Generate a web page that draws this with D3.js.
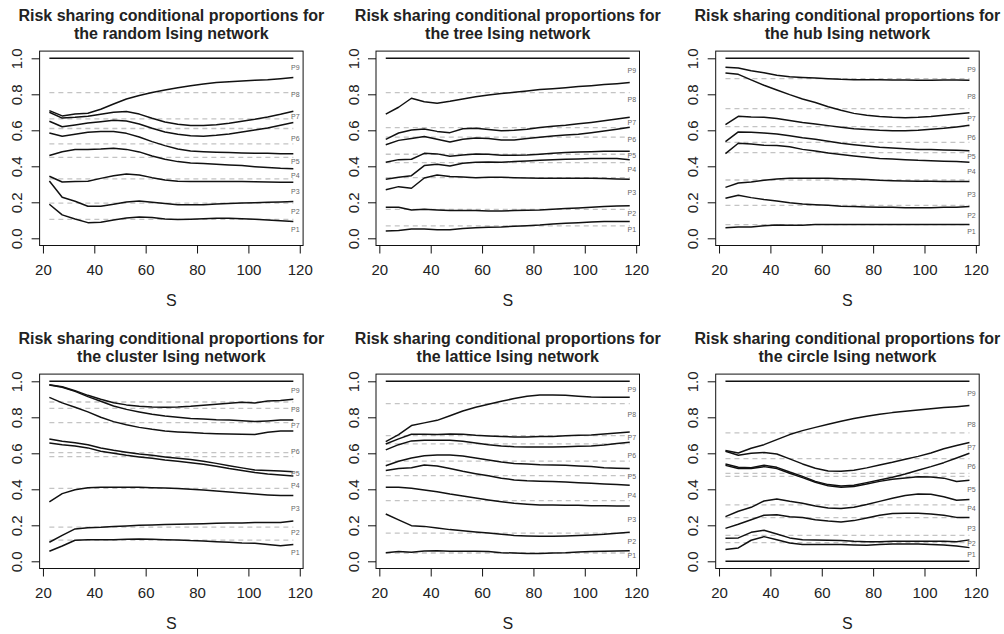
<!DOCTYPE html>
<html>
<head>
<meta charset="utf-8">
<script src="https://cdn.jsdelivr.net/npm/d3@7"></script>
<style>
  body { margin: 0; background: #fff; }
  svg { display: block; }
  text { font-family: "Liberation Sans", Arial, Helvetica, sans-serif; }
</style>
</head>
<body>
<svg id="chart" width="1004" height="634"></svg>
<script>
// Network size S at which the proportions were evaluated
const sValues = [22.5, 27.5, 32.5, 37.5, 42.5, 47.5, 52.5, 57.5, 62.5, 67.5,
                 72.5, 77.5, 82.5, 87.5, 92.5, 97.5, 102.5, 107.5, 112.5, 117.5];
const xTicks = [20, 40, 60, 80, 100, 120];
const yTicks = [0, 0.2, 0.4, 0.6, 0.8, 1.0];
const proportionLabels = ["P1", "P2", "P3", "P4", "P5", "P6", "P7", "P8", "P9"];

// Cumulative proportions C1..C8 (C0 = 0 and C9 = 1) for each network type
const randomCurves = [
  [0.189,0.130,0.107,0.087,0.089,0.102,0.113,0.119,0.115,0.107,0.104,0.106,0.109,0.111,0.111,0.109,0.106,0.102,0.098,0.094],
  [0.318,0.228,0.206,0.178,0.178,0.189,0.202,0.207,0.200,0.193,0.187,0.187,0.187,0.191,0.194,0.196,0.198,0.200,0.202,0.204],
  [0.345,0.313,0.315,0.317,0.333,0.348,0.357,0.352,0.337,0.324,0.317,0.315,0.315,0.315,0.315,0.315,0.314,0.313,0.312,0.311],
  [0.460,0.481,0.493,0.494,0.496,0.500,0.494,0.480,0.457,0.439,0.426,0.419,0.415,0.411,0.407,0.404,0.398,0.393,0.389,0.387],
  [0.585,0.567,0.578,0.589,0.593,0.593,0.583,0.563,0.537,0.515,0.496,0.485,0.481,0.478,0.476,0.474,0.472,0.472,0.470,0.470],
  [0.650,0.620,0.630,0.640,0.648,0.656,0.652,0.635,0.611,0.591,0.578,0.570,0.567,0.572,0.580,0.591,0.602,0.613,0.628,0.643],
  [0.700,0.668,0.672,0.678,0.689,0.700,0.704,0.690,0.667,0.646,0.633,0.626,0.626,0.631,0.639,0.650,0.661,0.674,0.689,0.706],
  [0.709,0.680,0.690,0.695,0.717,0.746,0.774,0.793,0.810,0.824,0.837,0.848,0.857,0.865,0.870,0.874,0.878,0.881,0.887,0.893]
];
const randomRefs = [0.105, 0.195, 0.330, 0.450, 0.525, 0.610, 0.663, 0.809];

const treeCurves = [
  [0.041,0.044,0.052,0.052,0.048,0.048,0.054,0.059,0.061,0.063,0.067,0.070,0.074,0.080,0.083,0.087,0.091,0.093,0.093,0.093],
  [0.172,0.172,0.157,0.161,0.157,0.154,0.154,0.154,0.152,0.152,0.154,0.156,0.157,0.161,0.165,0.169,0.172,0.176,0.180,0.181],
  [0.270,0.287,0.278,0.335,0.352,0.343,0.341,0.337,0.339,0.339,0.337,0.335,0.333,0.333,0.333,0.333,0.333,0.332,0.330,0.328],
  [0.328,0.339,0.348,0.404,0.411,0.402,0.417,0.422,0.424,0.422,0.426,0.430,0.433,0.437,0.439,0.441,0.443,0.443,0.443,0.437],
  [0.422,0.437,0.439,0.472,0.469,0.456,0.463,0.469,0.467,0.461,0.461,0.463,0.467,0.472,0.476,0.480,0.481,0.483,0.483,0.483],
  [0.520,0.544,0.554,0.565,0.550,0.535,0.550,0.557,0.554,0.546,0.546,0.554,0.561,0.569,0.574,0.578,0.587,0.596,0.606,0.617],
  [0.550,0.585,0.602,0.607,0.594,0.587,0.609,0.611,0.604,0.598,0.600,0.606,0.615,0.622,0.628,0.636,0.644,0.653,0.663,0.673],
  [0.690,0.728,0.778,0.759,0.750,0.761,0.774,0.787,0.796,0.804,0.811,0.819,0.826,0.831,0.837,0.843,0.848,0.854,0.859,0.865]
];
const treeRefs = [0.069, 0.161, 0.337, 0.420, 0.467, 0.562, 0.615, 0.809];

const hubCurves = [
  [0.059,0.063,0.063,0.070,0.074,0.072,0.072,0.076,0.076,0.076,0.076,0.076,0.076,0.076,0.076,0.076,0.076,0.076,0.076,0.076],
  [0.222,0.239,0.226,0.215,0.207,0.198,0.191,0.187,0.183,0.178,0.176,0.174,0.172,0.172,0.170,0.170,0.170,0.172,0.172,0.176],
  [0.283,0.307,0.313,0.322,0.330,0.333,0.333,0.333,0.333,0.331,0.330,0.326,0.322,0.320,0.319,0.317,0.317,0.315,0.315,0.315],
  [0.470,0.528,0.524,0.517,0.515,0.509,0.494,0.485,0.474,0.465,0.457,0.450,0.444,0.441,0.437,0.433,0.431,0.428,0.426,0.422],
  [0.537,0.591,0.589,0.585,0.580,0.570,0.559,0.550,0.539,0.528,0.520,0.513,0.506,0.502,0.498,0.494,0.493,0.491,0.489,0.487],
  [0.631,0.678,0.674,0.672,0.665,0.654,0.643,0.635,0.626,0.617,0.609,0.604,0.600,0.598,0.598,0.600,0.606,0.611,0.619,0.628],
  [0.919,0.911,0.880,0.850,0.824,0.798,0.774,0.754,0.731,0.711,0.694,0.683,0.676,0.672,0.670,0.672,0.676,0.683,0.691,0.698],
  [0.950,0.946,0.931,0.920,0.906,0.898,0.894,0.891,0.887,0.883,0.881,0.881,0.881,0.880,0.880,0.878,0.878,0.880,0.880,0.878]
];
const hubRefs = [0.076, 0.183, 0.324, 0.476, 0.533, 0.620, 0.720, 0.887];

const clusterCurves = [
  [0.056,0.085,0.117,0.120,0.120,0.120,0.122,0.124,0.122,0.120,0.119,0.115,0.113,0.109,0.106,0.102,0.100,0.093,0.087,0.094],
  [0.106,0.144,0.180,0.187,0.189,0.193,0.196,0.200,0.202,0.204,0.206,0.207,0.209,0.211,0.213,0.213,0.215,0.215,0.215,0.224],
  [0.330,0.376,0.398,0.409,0.411,0.411,0.411,0.411,0.409,0.407,0.404,0.400,0.396,0.391,0.385,0.380,0.374,0.369,0.365,0.365],
  [0.657,0.648,0.641,0.630,0.611,0.600,0.589,0.580,0.572,0.563,0.556,0.548,0.539,0.528,0.515,0.504,0.493,0.485,0.480,0.474],
  [0.680,0.667,0.659,0.648,0.630,0.617,0.606,0.596,0.589,0.580,0.572,0.565,0.556,0.544,0.531,0.519,0.507,0.504,0.502,0.498],
  [0.911,0.880,0.856,0.830,0.800,0.776,0.759,0.744,0.733,0.724,0.719,0.715,0.711,0.709,0.707,0.706,0.704,0.717,0.724,0.724],
  [0.980,0.967,0.944,0.915,0.889,0.863,0.844,0.830,0.817,0.807,0.800,0.794,0.791,0.787,0.785,0.781,0.776,0.780,0.785,0.785],
  [0.981,0.970,0.948,0.922,0.900,0.881,0.869,0.861,0.857,0.856,0.857,0.861,0.867,0.872,0.878,0.883,0.880,0.891,0.893,0.900]
];
const clusterRefs = [0.118, 0.190, 0.405, 0.582, 0.604, 0.770, 0.850, 0.885];

const latticeCurves = [
  [0.048,0.054,0.050,0.057,0.059,0.056,0.056,0.056,0.054,0.048,0.046,0.044,0.044,0.046,0.048,0.052,0.054,0.056,0.057,0.059],
  [0.263,0.230,0.198,0.194,0.185,0.176,0.170,0.163,0.157,0.150,0.144,0.141,0.139,0.139,0.141,0.143,0.146,0.150,0.156,0.161],
  [0.411,0.411,0.406,0.396,0.387,0.374,0.363,0.352,0.341,0.331,0.322,0.317,0.313,0.313,0.311,0.311,0.309,0.309,0.307,0.307],
  [0.504,0.515,0.520,0.535,0.530,0.515,0.500,0.487,0.475,0.462,0.452,0.447,0.445,0.443,0.440,0.437,0.433,0.430,0.426,0.422],
  [0.531,0.556,0.574,0.587,0.591,0.591,0.585,0.574,0.563,0.552,0.544,0.541,0.537,0.535,0.533,0.530,0.526,0.520,0.517,0.515],
  [0.619,0.648,0.669,0.672,0.672,0.672,0.667,0.657,0.648,0.641,0.637,0.635,0.635,0.635,0.637,0.639,0.641,0.646,0.654,0.661],
  [0.652,0.680,0.706,0.706,0.704,0.707,0.706,0.700,0.696,0.693,0.691,0.691,0.693,0.694,0.698,0.700,0.702,0.707,0.713,0.719],
  [0.665,0.704,0.754,0.769,0.783,0.809,0.835,0.856,0.872,0.889,0.904,0.917,0.924,0.924,0.922,0.917,0.913,0.911,0.911,0.911]
];
const latticeRefs = [0.046, 0.157, 0.337, 0.476, 0.556, 0.652, 0.698, 0.876];

const circleCurves = [
  [0.065,0.074,0.117,0.137,0.120,0.102,0.094,0.093,0.094,0.094,0.091,0.089,0.093,0.096,0.096,0.096,0.094,0.091,0.085,0.076],
  [0.128,0.130,0.161,0.172,0.152,0.130,0.120,0.119,0.117,0.115,0.111,0.109,0.109,0.111,0.111,0.111,0.111,0.111,0.109,0.119],
  [0.183,0.206,0.231,0.256,0.259,0.248,0.243,0.231,0.224,0.219,0.226,0.241,0.256,0.265,0.267,0.267,0.263,0.256,0.244,0.243],
  [0.248,0.278,0.300,0.335,0.346,0.333,0.322,0.307,0.296,0.293,0.300,0.315,0.333,0.350,0.365,0.374,0.372,0.359,0.339,0.344],
  [0.533,0.515,0.515,0.526,0.515,0.489,0.465,0.439,0.420,0.411,0.415,0.430,0.444,0.456,0.463,0.470,0.468,0.462,0.443,0.450],
  [0.541,0.522,0.520,0.533,0.522,0.496,0.472,0.444,0.426,0.419,0.422,0.437,0.452,0.467,0.485,0.506,0.526,0.548,0.574,0.600],
  [0.611,0.589,0.600,0.604,0.596,0.569,0.541,0.517,0.502,0.500,0.506,0.519,0.535,0.550,0.567,0.583,0.602,0.625,0.643,0.660],
  [0.615,0.602,0.628,0.648,0.676,0.704,0.726,0.744,0.761,0.778,0.793,0.806,0.817,0.826,0.833,0.841,0.848,0.854,0.859,0.865]
];
const circleRefs = [0.104, 0.144, 0.243, 0.313, 0.472, 0.488, 0.570, 0.713];

// Outer bounds drawn as solid lines in each panel
const randomBounds = [1];
const treeBounds = [1];
const hubBounds = [1];
const clusterBounds = [1];
const latticeBounds = [1];
const circleBounds = [0, 1];

const panels = [
  { name: "random",  curves: randomCurves,  refs: randomRefs,  bounds: randomBounds },
  { name: "tree",    curves: treeCurves,    refs: treeRefs,    bounds: treeBounds },
  { name: "hub",     curves: hubCurves,     refs: hubRefs,     bounds: hubBounds },
  { name: "cluster", curves: clusterCurves, refs: clusterRefs, bounds: clusterBounds },
  { name: "lattice", curves: latticeCurves, refs: latticeRefs, bounds: latticeBounds },
  { name: "circle",  curves: circleCurves,  refs: circleRefs,  bounds: circleBounds }
];

// Layout of the 2 x 3 grid of plot boxes
const boxLefts = [39.6, 376, 715.7];
const boxTops = [51.1, 374.1];
const boxW = 263.5, boxH = 194.4;
const labelS = 118.3;

const svg = d3.select("#chart");

const [sMin, sMax] = d3.extent(sValues);
const sPad = (sMax - sMin) * 0.04;
const fmtY = d3.format(".1f");

panels.forEach((p, i) => {
  const left = boxLefts[i % 3];
  const top = boxTops[Math.floor(i / 3)];

  const x = d3.scaleLinear().domain([sMin - sPad, sMax + sPad]).range([left, left + boxW]);
  const y = d3.scaleLinear().domain([-0.04, 1.04]).range([top + boxH, top]);

  const g = svg.append("g").attr("class", "panel-" + p.name);

  // Reference levels (dashed)
  g.selectAll("line.ref").data(p.refs).join("line")
    .attr("class", "ref")
    .attr("x1", x(sMin)).attr("x2", x(sMax))
    .attr("y1", d => y(d)).attr("y2", d => y(d))
    .attr("stroke", "#c4c4c4").attr("stroke-width", 1.3)
    .attr("stroke-dasharray", "5,4");

  // Cumulative proportion curves
  const line = d3.line()
    .x((d, j) => x(sValues[j]))
    .y(d => y(d));
  g.selectAll("path.curve").data(p.curves).join("path")
    .attr("class", "curve")
    .attr("d", line)
    .attr("fill", "none")
    .attr("stroke", "#111")
    .attr("stroke-width", 1.5)
    .attr("stroke-linejoin", "round");

  // Solid bounds
  g.selectAll("line.bound").data(p.bounds).join("line")
    .attr("class", "bound")
    .attr("x1", x(sMin)).attr("x2", x(sMax))
    .attr("y1", d => y(d)).attr("y2", d => y(d))
    .attr("stroke", "#111").attr("stroke-width", 1.5);

  // P labels midway between consecutive curves at the last S
  const endVals = [0, ...p.curves.map(c => c[c.length - 1]), 1];
  g.selectAll("text.plabel").data(proportionLabels).join("text")
    .attr("class", "plabel")
    .attr("x", x(labelS))
    .attr("y", (d, k) => y((endVals[k] + endVals[k + 1]) / 2))
    .attr("dy", "0.35em")
    .attr("text-anchor", "middle")
    .attr("font-size", 7)
    .attr("fill", "#666")
    .text(d => d);

  // Plot box
  g.append("rect")
    .attr("x", left).attr("y", top)
    .attr("width", boxW).attr("height", boxH)
    .attr("fill", "none").attr("stroke", "#111").attr("stroke-width", 1);

  // X axis
  const xa = g.append("g")
    .attr("transform", `translate(0,${top + boxH})`)
    .call(d3.axisBottom(x).tickValues(xTicks).tickSize(8).tickFormat(d3.format("d")));
  xa.select(".domain").remove();
  xa.selectAll(".tick line").attr("stroke", "#111");
  xa.selectAll(".tick text")
    .attr("y", 29.5).attr("dy", null)
    .attr("font-size", 15).attr("fill", "#222")
    .attr("font-family", "'Liberation Sans', Arial, Helvetica, sans-serif");

  // Y axis with labels rotated
  const ya = g.append("g")
    .attr("transform", `translate(${left},0)`)
    .call(d3.axisLeft(y).tickValues(yTicks).tickSize(8).tickFormat(fmtY));
  ya.select(".domain").remove();
  ya.selectAll(".tick line").attr("stroke", "#111");
  ya.selectAll(".tick text")
    .attr("x", null).attr("dy", null)
    .attr("transform", "translate(-17.5,0) rotate(-90)")
    .attr("text-anchor", "middle")
    .attr("font-size", 15).attr("fill", "#222")
    .attr("font-family", "'Liberation Sans', Arial, Helvetica, sans-serif");

  // Title
  const cx = left + boxW / 2;
  g.append("text")
    .attr("x", cx).attr("y", top - 30.4)
    .attr("text-anchor", "middle").attr("font-size", 16).attr("font-weight", "bold")
    .attr("fill", "#222")
    .text("Risk sharing conditional proportions for");
  g.append("text")
    .attr("x", cx).attr("y", top - 12.1)
    .attr("text-anchor", "middle").attr("font-size", 16).attr("font-weight", "bold")
    .attr("fill", "#222")
    .text(`the ${p.name} Ising network`);

  // X axis title
  g.append("text")
    .attr("x", cx).attr("y", top + boxH + 60)
    .attr("text-anchor", "middle").attr("font-size", 16)
    .attr("fill", "#222")
    .text("S");
});
</script>
</body>
</html>
